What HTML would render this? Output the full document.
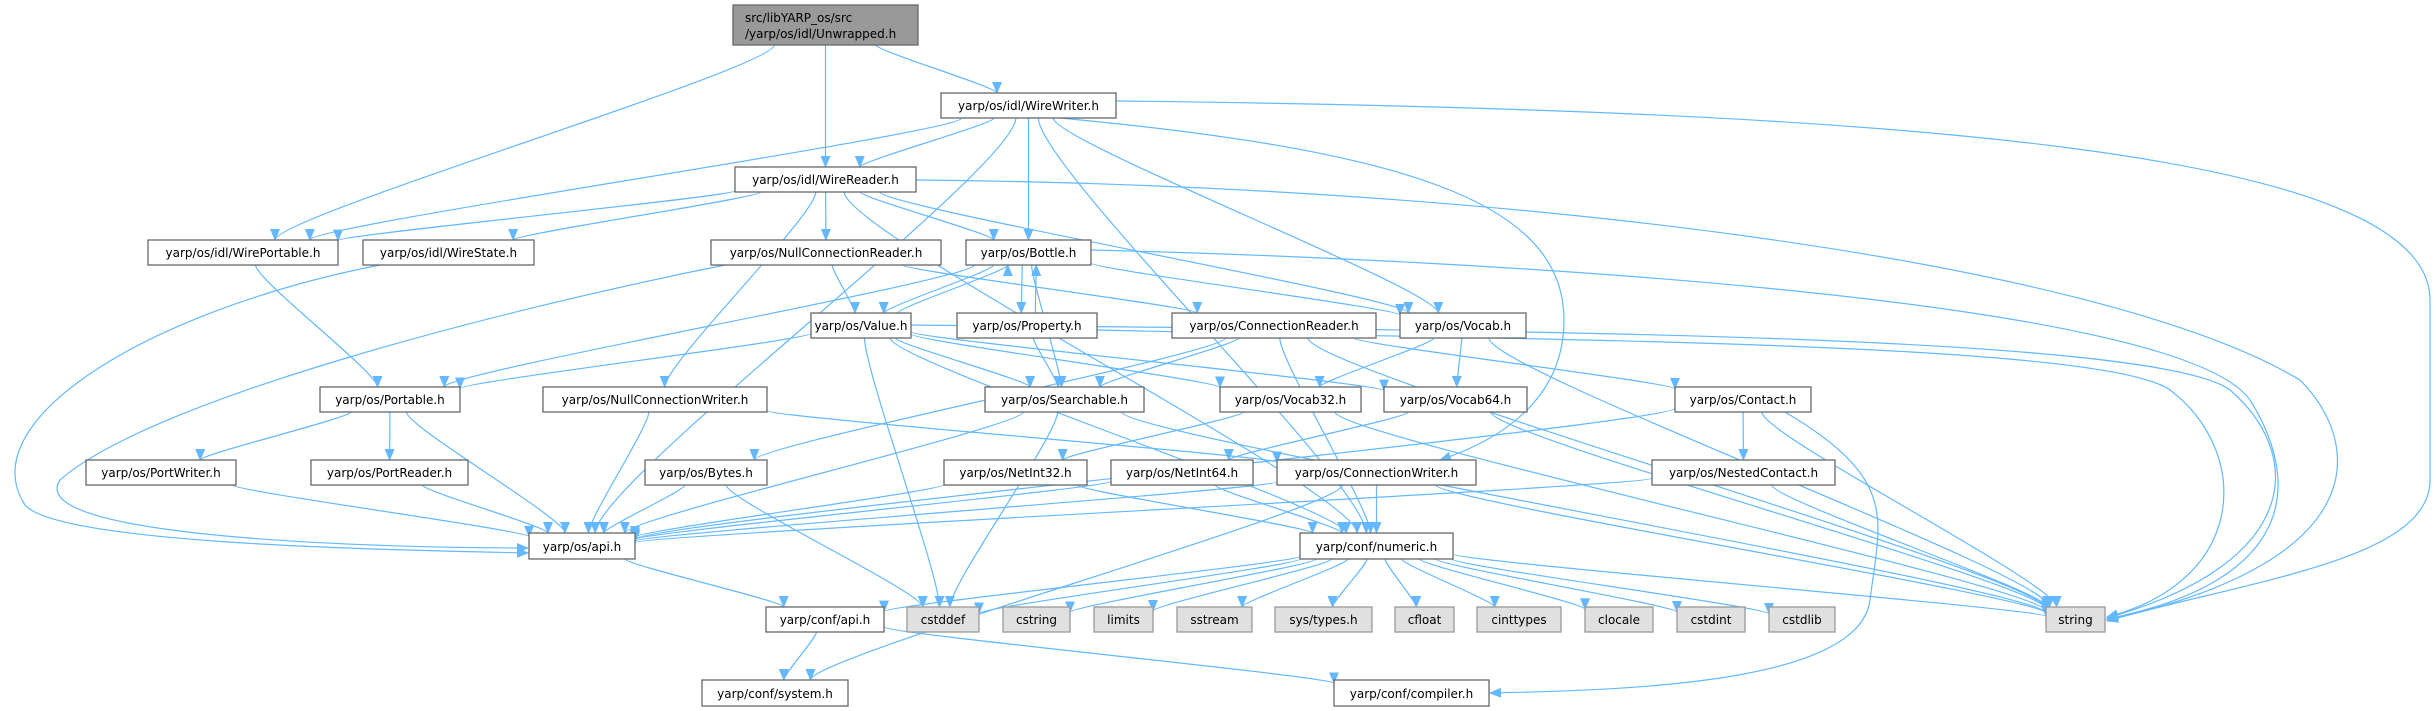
<!DOCTYPE html>
<html><head><meta charset="utf-8"><style>
html,body{margin:0;padding:0;background:#fff;width:2436px;height:711px;overflow:hidden}
svg{display:block}
text{font-family:"DejaVu Sans","Liberation Sans",sans-serif;font-size:12px;fill:#000}
</style></head><body>
<svg id="g" width="2436" height="711" viewBox="0 0 2436 711" xmlns="http://www.w3.org/2000/svg">
<defs><marker id="a" markerWidth="12" markerHeight="10" refX="11" refY="5" orient="auto" markerUnits="userSpaceOnUse"><path d="M0,0 L12,5 L0,10 z" fill="#63b8ff"/></marker></defs>
<g id="edges" fill="none" stroke="#63b8ff" stroke-width="1.2">
<path marker-end="url(#a)" d="M1116,101 C1900,110 2430,150 2430,300 L2430,480 C2430,560 2250,580 2107,621"/>
<path marker-end="url(#a)" d="M916,180 C1500,185 2100,260 2300,380 C2360,440 2380,560 2107,620"/>
<path marker-end="url(#a)" d="M1091,250 C1500,260 2180,300 2250,400 C2300,480 2300,580 2107,619"/>
<path marker-end="url(#a)" d="M911,325 C1400,330 2150,330 2230,390 C2300,450 2310,560 2107,618"/>
<path marker-end="url(#a)" d="M1097,330 C1500,340 2100,340 2170,390 C2250,450 2250,580 2107,617"/>
<path marker-end="url(#a)" d="M380,265 C150,310 -30,420 25,505 C60,545 400,550 528,553"/>
<path marker-end="url(#a)" d="M725,265 C500,310 150,400 60,480 C20,540 400,548 528,548"/>
<path marker-end="url(#a)" d="M1785,412 C1900,480 1880,520 1870,600 C1860,680 1650,690 1490,693"/>
<path marker-end="url(#a)" d="M1060,118 C1400,150 1564,200 1564,320 C1564,400 1500,440 1440,460"/>
</g>
</svg>
<script>
var N={
U:[733,918,5,45],
WW:[941,1116,93,118],WR:[735,916,167,192],WP:[148,338,240,265],WS:[363,534,240,265],
NCR:[711,941,240,265],B:[966,1091,240,265],V:[811,911,313,338],P:[957,1097,313,338],
CR:[1172,1376,313,338],VO:[1400,1526,313,338],PO:[320,460,387,412],NCW:[543,767,387,412],
S:[985,1144,387,412],V32:[1220,1361,387,412],V64:[1384,1527,387,412],C:[1675,1811,387,412],
PW:[86,236,460,485],PR:[311,468,460,485],BY:[645,767,460,485],N32:[944,1087,460,485],
N64:[1111,1253,460,485],CW:[1277,1476,460,485],NC:[1652,1835,460,485],API:[529,635,533,559],
NUM:[1300,1453,533,559],CAPI:[766,884,607,632],CSTDDEF:[907,979,607,632],CSTRING:[1003,1070,607,632],
LIMITS:[1094,1153,607,632],SSTREAM:[1177,1252,607,632],SYS:[1275,1372,607,632],CFLOAT:[1395,1454,607,632],
CINT:[1477,1561,607,632],CLOC:[1585,1653,607,632],CSTDINT:[1677,1745,607,632],CSTDLIB:[1769,1835,607,632],
STR:[2046,2105,607,632],SYSH:[702,848,680,706],COMP:[1334,1489,680,706]};
var E="U-WP U-WR U-WW WW-WR WW-WP WW-API WW-B WW-VO WW-NUM WR-WP WR-WS WR-NCR WR-B WR-VO WR-NCW WR-NUM WP-PO NCR-V NCR-CR B-V B-P B-S B-VO B-PO V-B V-PO V-S V-V32 V-V64 V-CSTDDEF V-NUM P-B P-S CR-S CR-BY CR-C CR-NUM CR-STR VO-V32 VO-V64 VO-STR PO-PW PO-PR PO-API NCW-API NCW-CW S-API S-CSTDDEF S-STR V32-N32 V32-STR V64-N64 V64-STR C-NC C-API C-STR PW-API PR-API BY-API BY-CSTDDEF N32-API N32-NUM N64-API N64-NUM CW-API CW-NUM CW-STR NC-API NC-STR API-CAPI CAPI-SYSH CAPI-COMP NUM-CSTDDEF NUM-CSTRING NUM-LIMITS NUM-SSTREAM NUM-SYS NUM-CFLOAT NUM-CINT NUM-CLOC NUM-CSTDINT NUM-CSTDLIB NUM-STR NUM-CAPI CW-SYSH".split(' ');
var ns="http://www.w3.org/2000/svg";
function bp(n,dx,dy){var x1=n[0],x2=n[1],y1=n[2],y2=n[3],cx=(x1+x2)/2,cy=(y1+y2)/2,hw=(x2-x1)/2,hh=(y2-y1)/2;
 var t=Math.min(dx?hw/Math.abs(dx):1e9,dy?hh/Math.abs(dy):1e9);return [cx+dx*t,cy+dy*t];}
var eg=document.getElementById('edges');
E.forEach(function(e){var p=e.split('-'),s=N[p[0]],t=N[p[1]];
 var sc=[(s[0]+s[1])/2,(s[2]+s[3])/2],tc=[(t[0]+t[1])/2,(t[2]+t[3])/2];
 var dx=tc[0]-sc[0],dy=tc[1]-sc[1];
 var a=bp(s,dx,dy),b=bp(t,-dx,-dy);
 var off=(p[0]=='V'&&p[1]=='B')||(p[0]=='P'&&p[1]=='B')?8:0;
 if(p[0]=='B'&&(p[1]=='V'||p[1]=='P'))off=-6;
 a[0]+=off;b[0]+=off;
 var k=0.12;
 var d='M'+a[0].toFixed(1)+','+a[1].toFixed(1)+' C'+a[0].toFixed(1)+','+(a[1]+(b[1]-a[1])*k).toFixed(1)+' '+b[0].toFixed(1)+','+(b[1]-(b[1]-a[1])*k).toFixed(1)+' '+b[0].toFixed(1)+','+b[1].toFixed(1);
 var pa=document.createElementNS(ns,'path');pa.setAttribute('d',d);pa.setAttribute('marker-end','url(#a)');eg.appendChild(pa);});
</script>
<svg width="2436" height="711" viewBox="0 0 2436 711" style="position:absolute;left:0;top:0" xmlns="http://www.w3.org/2000/svg">
<g stroke-width="1.3">
<rect x="733" y="5" width="185" height="40" fill="#999" stroke="#666"/>
<text x="745" y="22">src/libYARP_os/src</text><text x="745" y="38">/yarp/os/idl/Unwrapped.h</text>
<rect x="941" y="93" width="175" height="25" fill="#fff" stroke="#666"/><text x="1028.5" y="110" text-anchor="middle">yarp/os/idl/WireWriter.h</text>
<rect x="735" y="167" width="181" height="25" fill="#fff" stroke="#666"/><text x="825.5" y="184" text-anchor="middle">yarp/os/idl/WireReader.h</text>
<rect x="148" y="240" width="190" height="25" fill="#fff" stroke="#666"/><text x="243" y="257" text-anchor="middle">yarp/os/idl/WirePortable.h</text>
<rect x="363" y="240" width="171" height="25" fill="#fff" stroke="#666"/><text x="448.5" y="257" text-anchor="middle">yarp/os/idl/WireState.h</text>
<rect x="711" y="240" width="230" height="25" fill="#fff" stroke="#666"/><text x="826" y="257" text-anchor="middle">yarp/os/NullConnectionReader.h</text>
<rect x="966" y="240" width="125" height="25" fill="#fff" stroke="#666"/><text x="1028.5" y="257" text-anchor="middle">yarp/os/Bottle.h</text>
<rect x="811" y="313" width="100" height="25" fill="#fff" stroke="#666"/><text x="861" y="330" text-anchor="middle">yarp/os/Value.h</text>
<rect x="957" y="313" width="140" height="25" fill="#fff" stroke="#666"/><text x="1027" y="330" text-anchor="middle">yarp/os/Property.h</text>
<rect x="1172" y="313" width="204" height="25" fill="#fff" stroke="#666"/><text x="1274" y="330" text-anchor="middle">yarp/os/ConnectionReader.h</text>
<rect x="1400" y="313" width="126" height="25" fill="#fff" stroke="#666"/><text x="1463" y="330" text-anchor="middle">yarp/os/Vocab.h</text>
<rect x="320" y="387" width="140" height="25" fill="#fff" stroke="#666"/><text x="390" y="404" text-anchor="middle">yarp/os/Portable.h</text>
<rect x="543" y="387" width="224" height="25" fill="#fff" stroke="#666"/><text x="655" y="404" text-anchor="middle">yarp/os/NullConnectionWriter.h</text>
<rect x="985" y="387" width="159" height="25" fill="#fff" stroke="#666"/><text x="1064.5" y="404" text-anchor="middle">yarp/os/Searchable.h</text>
<rect x="1220" y="387" width="141" height="25" fill="#fff" stroke="#666"/><text x="1290.5" y="404" text-anchor="middle">yarp/os/Vocab32.h</text>
<rect x="1384" y="387" width="143" height="25" fill="#fff" stroke="#666"/><text x="1455.5" y="404" text-anchor="middle">yarp/os/Vocab64.h</text>
<rect x="1675" y="387" width="136" height="25" fill="#fff" stroke="#666"/><text x="1743" y="404" text-anchor="middle">yarp/os/Contact.h</text>
<rect x="86" y="460" width="150" height="25" fill="#fff" stroke="#666"/><text x="161" y="477" text-anchor="middle">yarp/os/PortWriter.h</text>
<rect x="311" y="460" width="157" height="25" fill="#fff" stroke="#666"/><text x="389.5" y="477" text-anchor="middle">yarp/os/PortReader.h</text>
<rect x="645" y="460" width="122" height="25" fill="#fff" stroke="#666"/><text x="706" y="477" text-anchor="middle">yarp/os/Bytes.h</text>
<rect x="944" y="460" width="143" height="25" fill="#fff" stroke="#666"/><text x="1015.5" y="477" text-anchor="middle">yarp/os/NetInt32.h</text>
<rect x="1111" y="460" width="142" height="25" fill="#fff" stroke="#666"/><text x="1182" y="477" text-anchor="middle">yarp/os/NetInt64.h</text>
<rect x="1277" y="460" width="199" height="25" fill="#fff" stroke="#666"/><text x="1376.5" y="477" text-anchor="middle">yarp/os/ConnectionWriter.h</text>
<rect x="1652" y="460" width="183" height="25" fill="#fff" stroke="#666"/><text x="1743.5" y="477" text-anchor="middle">yarp/os/NestedContact.h</text>
<rect x="529" y="533" width="106" height="26" fill="#fff" stroke="#666"/><text x="582" y="551" text-anchor="middle">yarp/os/api.h</text>
<rect x="1300" y="533" width="153" height="26" fill="#fff" stroke="#666"/><text x="1376.5" y="551" text-anchor="middle">yarp/conf/numeric.h</text>
<rect x="766" y="607" width="118" height="25" fill="#fff" stroke="#666"/><text x="825" y="624" text-anchor="middle">yarp/conf/api.h</text>
<g fill="#e0e0e0" stroke="#999">
<rect x="907" y="607" width="72" height="25"/><rect x="1003" y="607" width="67" height="25"/><rect x="1094" y="607" width="59" height="25"/><rect x="1177" y="607" width="75" height="25"/><rect x="1275" y="607" width="97" height="25"/><rect x="1395" y="607" width="59" height="25"/><rect x="1477" y="607" width="84" height="25"/><rect x="1585" y="607" width="68" height="25"/><rect x="1677" y="607" width="68" height="25"/><rect x="1769" y="607" width="66" height="25"/><rect x="2046" y="607" width="59" height="25"/>
</g>
<text x="943" y="624" text-anchor="middle">cstddef</text><text x="1036.5" y="624" text-anchor="middle">cstring</text><text x="1123.5" y="624" text-anchor="middle">limits</text><text x="1214.5" y="624" text-anchor="middle">sstream</text><text x="1323.5" y="624" text-anchor="middle">sys/types.h</text><text x="1424.5" y="624" text-anchor="middle">cfloat</text><text x="1519" y="624" text-anchor="middle">cinttypes</text><text x="1619" y="624" text-anchor="middle">clocale</text><text x="1711" y="624" text-anchor="middle">cstdint</text><text x="1802" y="624" text-anchor="middle">cstdlib</text><text x="2075.5" y="624" text-anchor="middle">string</text>
<rect x="702" y="680" width="146" height="26" fill="#fff" stroke="#666"/><text x="775" y="698" text-anchor="middle">yarp/conf/system.h</text>
<rect x="1334" y="680" width="155" height="26" fill="#fff" stroke="#666"/><text x="1411.5" y="698" text-anchor="middle">yarp/conf/compiler.h</text>
</g>
</svg>
</body></html>
